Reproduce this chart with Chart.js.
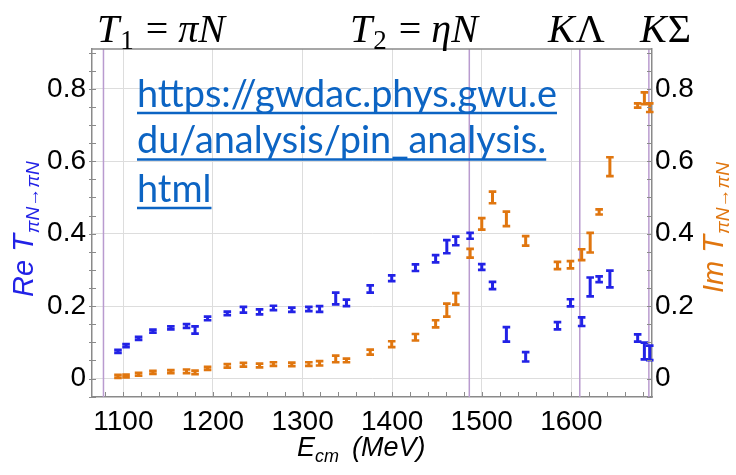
<!DOCTYPE html>
<html>
<head>
<meta charset="utf-8">
<script src="https://cdn.jsdelivr.net/npm/chart.js@4.4.1/dist/chart.umd.min.js"></script>
<style>
  html, body { margin: 0; padding: 0; background: #fff; }
</style>
</head>
<body>
<canvas id="chart" width="736" height="475"></canvas>
<script>
// E_cm in MeV, shared by both series
const energies = [1094, 1103, 1117, 1133, 1153, 1170.5, 1180, 1194, 1216, 1234,
  1252, 1267.5, 1288, 1307, 1319, 1337, 1349, 1375.5, 1399.5, 1426,
  1448.5, 1461, 1471, 1487, 1500, 1512, 1527.5, 1549, 1584.5, 1599,
  1611.5, 1621, 1631, 1643, 1674, 1681.5, 1687.5];
const reValues = [0.075, 0.091, 0.111, 0.131, 0.140, 0.145, 0.134, 0.166, 0.180, 0.190,
  0.184, 0.195, 0.190, 0.192, 0.192, 0.221, 0.209, 0.247, 0.277, 0.306,
  0.331, 0.364, 0.380, 0.394, 0.308, 0.257, 0.122, 0.060, 0.146, 0.209,
  0.157, 0.253, 0.274, 0.275, 0.112, 0.076, 0.071];
const reErrors = [0.004, 0.004, 0.004, 0.004, 0.004, 0.005, 0.010, 0.005, 0.005, 0.008,
  0.007, 0.006, 0.006, 0.006, 0.008, 0.016, 0.009, 0.010, 0.008, 0.009,
  0.010, 0.018, 0.012, 0.008, 0.008, 0.010, 0.020, 0.013, 0.010, 0.010,
  0.012, 0.026, 0.008, 0.023, 0.010, 0.023, 0.020];
const imValues = [0.006, 0.007, 0.012, 0.017, 0.019, 0.020, 0.017, 0.028, 0.035, 0.038,
  0.036, 0.040, 0.039, 0.040, 0.042, 0.054, 0.050, 0.073, 0.095, 0.114,
  0.151, 0.189, 0.220, 0.346, 0.427, 0.500, 0.441, 0.380, 0.312, 0.314,
  0.342, 0.375, 0.460, 0.585, 0.754, 0.774, 0.748];
const imErrors = [0.004, 0.004, 0.004, 0.004, 0.004, 0.005, 0.005, 0.004, 0.005, 0.005,
  0.005, 0.005, 0.005, 0.005, 0.006, 0.009, 0.005, 0.007, 0.008, 0.009,
  0.010, 0.018, 0.016, 0.012, 0.016, 0.016, 0.020, 0.013, 0.010, 0.010,
  0.015, 0.027, 0.007, 0.026, 0.006, 0.016, 0.012];

// channel thresholds (MeV)
const thresholds = [1077.8, 1486.1, 1609.4, 1686.5];

const xMin = 1065, xMax = 1690;
const yMin = -0.051, yMax = 0.91;
const xTickValues = [];
for (let v = 1080; v <= 1680; v += 20) xTickValues.push(v);
const yTickValues = [];
for (let i = -1; i <= 18; i++) yTickValues.push(Math.round(i * 5) / 100);
const yTickLabels = { "0": "0", "0.2": "0.2", "0.4": "0.4", "0.6": "0.6", "0.8": "0.8" };

const urlLines = ["https://gwdac.phys.gwu.e", "du/analysis/pin_analysis.", "html"];

const blue = "#2222e6";
const orange = "#e0760f";
const purple = "#b99bcf";
const frameColor = "#8a8a8a";
const gridColor = "#dddddd";
const linkColor = "#0c64c3";
const tickFont = { family: "Liberation Sans", size: 28 };

function isMajorY(v) {
  return yTickLabels[String(v)] !== undefined;
}

function drawRuns(ctx, x, y, runs) {
  for (const r of runs) {
    ctx.font = r.font;
    ctx.fillText(r.t, x, y + (r.dy || 0));
    x += ctx.measureText(r.t).width + (r.gap || 0);
  }
  return x;
}

const decor = {
  id: "decor",
  afterDatasetsDraw(chart) {
    const ctx = chart.ctx;
    const xs = chart.scales.x;
    chart.data.datasets.forEach(ds => {
      if (!ds.errors) return;
      const ys = chart.scales[ds.yAxisID];
      ctx.save();
      ctx.strokeStyle = ds.markColor;
      ds.data.forEach((p, i) => {
        const e = ds.errors[i];
        const px = xs.getPixelForValue(p.x);
        const top = ys.getPixelForValue(p.y + e);
        const bot = ys.getPixelForValue(p.y - e);
        ctx.lineWidth = 3;
        ctx.beginPath();
        ctx.moveTo(px, top);
        ctx.lineTo(px, bot);
        ctx.stroke();
        ctx.lineWidth = 2.7;
        ctx.beginPath();
        ctx.moveTo(px - 3.8, top);
        ctx.lineTo(px + 3.8, top);
        ctx.moveTo(px - 3.8, bot);
        ctx.lineTo(px + 3.8, bot);
        ctx.stroke();
      });
      ctx.restore();
    });
  },
  afterDraw(chart) {
    const ctx = chart.ctx;
    const a = chart.chartArea;
    const xs = chart.scales.x, ys = chart.scales.y;
    ctx.save();
    // frame top
    ctx.strokeStyle = frameColor;
    ctx.lineWidth = 1.5;
    ctx.beginPath();
    ctx.moveTo(a.left, a.top);
    ctx.lineTo(a.right, a.top);
    ctx.stroke();
    // small frame ticks
    ctx.lineWidth = 1;
    ctx.beginPath();
    xTickValues.forEach(v => {
      const px = Math.round(xs.getPixelForValue(v)) + 0.5;
      ctx.moveTo(px, a.bottom);
      ctx.lineTo(px, a.bottom - 5);
    });
    yTickValues.forEach(v => {
      const py = Math.round(ys.getPixelForValue(v)) + 0.5;
      if (py < a.top + 2) return;
      ctx.moveTo(a.left - 3, py);
      ctx.lineTo(a.left + 4, py);
      ctx.moveTo(a.right - 5, py);
      ctx.lineTo(a.right, py);
    });
    ctx.stroke();

    // threshold labels
    ctx.fillStyle = "#000";
    ctx.textBaseline = "alphabetic";
    const it = "italic 40px 'Liberation Serif'";
    const up = "40px 'Liberation Serif'";
    const sub = "27px 'Liberation Serif'";
    drawRuns(ctx, 97, 42, [{ t: "T", font: it, gap: 1 }, { t: "1", font: sub, dy: 7, gap: 12 },
      { t: "=", font: up, gap: 10 }, { t: "πN", font: it }]);
    drawRuns(ctx, 350, 42, [{ t: "T", font: it, gap: 1 }, { t: "2", font: sub, dy: 7, gap: 12 },
      { t: "=", font: up, gap: 10 }, { t: "ηN", font: it }]);
    drawRuns(ctx, 548, 42, [{ t: "K", font: it, gap: 1 }, { t: "Λ", font: up }]);
    drawRuns(ctx, 640, 42, [{ t: "K", font: it, gap: 1 }, { t: "Σ", font: up }]);

    // link text
    ctx.fillStyle = linkColor;
    ctx.strokeStyle = linkColor;
    ctx.font = "36px Lato";
    const w0 = ctx.measureText(urlLines[0]).width;
    const size = 36 * 420 / w0;
    ctx.font = size.toFixed(2) + "px Lato";
    const baselines = [106.5, 153, 201.5];
    urlLines.forEach((line, i) => {
      ctx.fillText(line, 137, baselines[i]);
      const w = ctx.measureText(line).width;
      ctx.lineWidth = 2.6;
      ctx.beginPath();
      ctx.moveTo(137, baselines[i] + 6.5);
      ctx.lineTo(137 + w, baselines[i] + 6.5);
      ctx.stroke();
    });

    // axis titles
    const tf = "italic 29px 'Liberation Sans'";
    const sf = "italic 19px 'Liberation Sans'";
    ctx.fillStyle = blue;
    ctx.save();
    ctx.translate(33, 297);
    ctx.rotate(-Math.PI / 2);
    drawRuns(ctx, 0, 0, [{ t: "Re ", font: tf }, { t: "T", font: tf, gap: 1 },
      { t: "πN→πN", font: sf, dy: 6 }]);
    ctx.restore();
    ctx.fillStyle = orange;
    ctx.save();
    ctx.translate(723, 293);
    ctx.rotate(-Math.PI / 2);
    drawRuns(ctx, 0, 0, [{ t: "Im ", font: tf }, { t: "T", font: tf, gap: 1 },
      { t: "πN→πN", font: sf, dy: 6 }]);
    ctx.restore();

    ctx.fillStyle = "#000";
    ctx.font = "italic 27px 'Liberation Sans'";
    ctx.fillText("E", 297, 456);
    ctx.font = "italic 18px 'Liberation Sans'";
    ctx.fillText("cm", 315, 462);
    ctx.font = "italic 27px 'Liberation Sans'";
    ctx.fillText("(MeV)", 352, 456);
    ctx.restore();
  }
};

const reData = energies.map((e, i) => ({ x: e, y: reValues[i] }));
const imData = energies.map((e, i) => ({ x: e, y: imValues[i] }));
const thresholdSets = thresholds.map(t => ({
  type: "line",
  data: [{ x: t, y: yMin }, { x: t, y: yMax }],
  borderColor: purple,
  borderWidth: 1.5,
  pointRadius: 0,
  yAxisID: "y"
}));

Chart.defaults.font.family = "Liberation Sans";
Chart.defaults.color = "#000";

const config = {
  type: "scatter",
  data: {
    datasets: [
      ...thresholdSets,
      { label: "Re", data: reData, errors: reErrors, markColor: blue, pointRadius: 0, yAxisID: "y" },
      { label: "Im", data: imData, errors: imErrors, markColor: orange, pointRadius: 0, yAxisID: "y2" }
    ]
  },
  options: {
    responsive: false,
    devicePixelRatio: 1,
    animation: false,
    layout: { padding: { top: 49, left: 0, right: 0, bottom: 0 } },
    plugins: { legend: { display: false }, tooltip: { enabled: false } },
    scales: {
      x: {
        type: "linear",
        min: xMin,
        max: xMax,
        afterBuildTicks: s => { s.ticks = xTickValues.map(v => ({ value: v })); },
        afterFit: s => { s.height = 78; },
        ticks: {
          autoSkip: false,
          maxRotation: 0,
          padding: 8,
          font: tickFont,
          callback: v => (v % 100 === 0 ? String(v) : "")
        },
        grid: {
          drawTicks: false,
          color: c => (c.tick && c.tick.value % 100 === 0 ? gridColor : "rgba(0,0,0,0)")
        },
        border: { color: frameColor, width: 1.5 }
      },
      y: {
        position: "left",
        min: yMin,
        max: yMax,
        afterBuildTicks: s => { s.ticks = yTickValues.map(v => ({ value: v })); },
        afterFit: s => { s.width = 92; },
        ticks: {
          autoSkip: false,
          padding: 6,
          font: tickFont,
          callback: v => yTickLabels[String(v)] || ""
        },
        grid: {
          drawTicks: false,
          color: c => (c.tick && isMajorY(c.tick.value) ? gridColor : "rgba(0,0,0,0)")
        },
        border: { color: frameColor, width: 1.5 }
      },
      y2: {
        position: "right",
        min: yMin,
        max: yMax,
        afterBuildTicks: s => { s.ticks = yTickValues.map(v => ({ value: v })); },
        afterFit: s => { s.width = 84; },
        ticks: {
          autoSkip: false,
          padding: 3,
          font: tickFont,
          callback: v => yTickLabels[String(v)] || ""
        },
        grid: { drawTicks: false, drawOnChartArea: false },
        border: { color: frameColor, width: 1.5 }
      }
    }
  },
  plugins: [decor]
};

const chart = new Chart(document.getElementById("chart"), config);
</script>
</body>
</html>
